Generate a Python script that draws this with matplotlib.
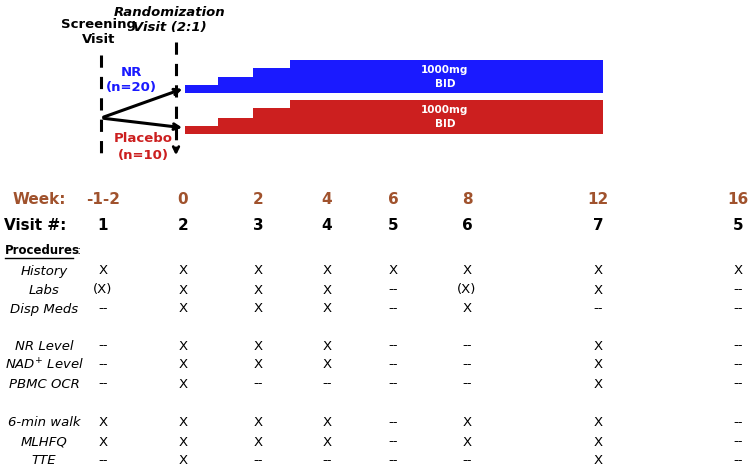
import matplotlib.pyplot as plt

# schedule table
weeks = ["-1-2", "0", "2", "4", "6", "8", "12", "16"]
visits = ["1", "2", "3", "4", "5", "6", "7", "5"]
col_x = [103, 183, 258, 327, 393, 467, 598, 738]
procedures = ["History", "Labs", "Disp Meds", "NR Level", "NAD$^{+}$ Level", "PBMC OCR",
              "6-min walk", "MLHFQ", "TTE"]
row_y = [271, 290, 309, 346, 365, 384, 423, 442, 461]
marks = [
    ["X", "X", "X", "X", "X", "X", "X", "X"],
    ["(X)", "X", "X", "X", "--", "(X)", "X", "--"],
    ["--", "X", "X", "X", "--", "X", "--", "--"],
    ["--", "X", "X", "X", "--", "--", "X", "--"],
    ["--", "X", "X", "X", "--", "--", "X", "--"],
    ["--", "X", "--", "--", "--", "--", "X", "--"],
    ["X", "X", "X", "X", "--", "X", "X", "--"],
    ["X", "X", "X", "X", "--", "X", "X", "--"],
    ["--", "X", "--", "--", "--", "--", "X", "--"],
]

# dose escalation steps (step start x, bar height in px)
step_x = [185, 218, 253, 290, 603]
nr_heights = [8, 16, 25, 33]
pl_heights = [8, 16, 26, 34]

brown = "#a0522d"
blue = "#1a1aff"
red = "#cc1f1f"

fig = plt.figure(figsize=(7.5, 4.7), dpi=100)
ax = fig.add_axes([0, 0, 1, 1])
ax.set_xlim(0, 750)
ax.set_ylim(470, 0)
ax.axis("off")

for i in range(4):
    w = step_x[i + 1] - step_x[i]
    ax.bar(step_x[i], nr_heights[i], width=w, bottom=93 - nr_heights[i], align="edge",
           color=blue, linewidth=0)
    ax.bar(step_x[i], pl_heights[i], width=w, bottom=134 - pl_heights[i], align="edge",
           color=red, linewidth=0)
ax.text(445, 77, "1000mg\nBID", color="white", fontsize=7.5, fontweight="bold",
        ha="center", va="center", linespacing=1.5)
ax.text(445, 117, "1000mg\nBID", color="white", fontsize=7.5, fontweight="bold",
        ha="center", va="center", linespacing=1.5)

ax.plot([101, 101], [55, 160], "k--", lw=2.2, dashes=(4, 3))
ax.plot([176, 176], [42, 150], "k--", lw=2.2, dashes=(4, 3))
ax.annotate("", xy=(176, 158), xytext=(176, 145),
            arrowprops=dict(arrowstyle="->", lw=2, color="k"))
ax.annotate("", xy=(185, 88), xytext=(101, 118),
            arrowprops=dict(arrowstyle="->", lw=2.2, color="k"))
ax.annotate("", xy=(185, 128), xytext=(101, 118),
            arrowprops=dict(arrowstyle="->", lw=2.2, color="k"))

ax.text(99, 32, "Screening\nVisit", fontsize=9.5, fontweight="bold", ha="center",
        va="center", linespacing=1.15)
ax.text(170, 20, "Randomization\nVisit (2:1)", fontsize=9.5, fontweight="bold",
        style="italic", ha="center", va="center", linespacing=1.2)
ax.text(131, 80, "NR\n(n=20)", fontsize=9.5, fontweight="bold", color=blue,
        ha="center", va="center", linespacing=1.3)
ax.text(143, 147, "Placebo\n(n=10)", fontsize=9.5, fontweight="bold", color=red,
        ha="center", va="center", linespacing=1.3)

ax.text(66, 200, "Week:", fontsize=11, fontweight="bold", color=brown, ha="right", va="center")
ax.text(66, 225, "Visit #:", fontsize=11, fontweight="bold", ha="right", va="center")
for x, wk, v in zip(col_x, weeks, visits):
    ax.text(x, 200, wk, fontsize=11, fontweight="bold", color=brown, ha="center", va="center")
    ax.text(x, 225, v, fontsize=11, fontweight="bold", ha="center", va="center")

ax.text(5, 251, "Procedures", fontsize=8.5, fontweight="bold", va="center")
ax.plot([5, 73], [258, 258], color="k", lw=1)
ax.text(76, 251, ":", fontsize=9, va="center")

for y, name, row in zip(row_y, procedures, marks):
    ax.text(44, y, name, fontsize=9.5, style="italic", ha="center", va="center")
    for x, m in zip(col_x, row):
        ax.text(x, y, m, fontsize=9.5, ha="center", va="center")

fig.savefig("out.png", dpi=100)
